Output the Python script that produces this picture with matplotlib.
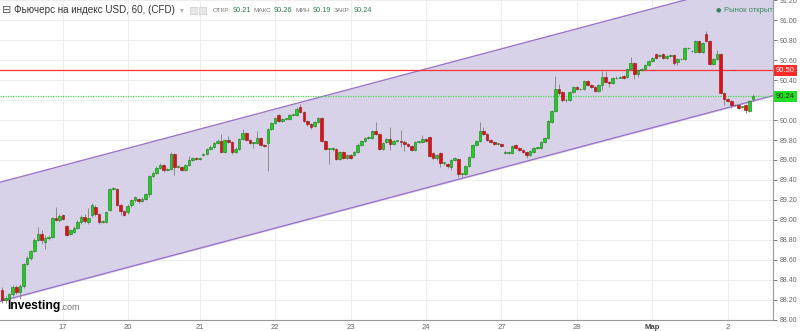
import matplotlib.pyplot as plt
import matplotlib.transforms as mtransforms
from matplotlib.patches import Rectangle
import numpy as np

# hourly candles
opens = [88.30, 88.20, 88.21, 88.26, 88.33, 88.28, 88.34, 88.56, 88.62, 88.69,
         88.80, 88.86, 88.78, 88.82, 88.83, 89.02, 89.00, 89.05, 88.94, 88.86,
         88.88, 88.92, 88.98, 89.03, 88.98, 89.05, 89.13, 89.06, 88.98, 88.98,
         89.10, 89.31, 89.31, 89.15, 89.09, 89.08, 89.15, 89.20, 89.21, 89.19,
         89.21, 89.26, 89.44, 89.47, 89.52, 89.55, 89.50, 89.51, 89.66, 89.53,
         89.53, 89.50, 89.55, 89.60, 89.62, 89.61, 89.65, 89.66, 89.71, 89.73,
         89.77, 89.79, 89.68, 89.80, 89.78, 89.68, 89.71, 89.81, 89.87, 89.80,
         89.77, 89.77, 89.82, 89.75, 89.77, 89.91, 89.97, 90.05, 89.99, 90.01,
         90.01, 90.05, 90.05, 90.13, 90.08, 89.99, 89.96, 89.94, 89.98, 90.02,
         89.79, 89.71, 89.71, 89.71, 89.61, 89.68, 89.62, 89.65, 89.65, 89.68,
         89.75, 89.79, 89.82, 89.82, 89.89, 89.86, 89.71, 89.78, 89.81, 89.76,
         89.79, 89.79, 89.78, 89.76, 89.74, 89.70, 89.78, 89.78, 89.81, 89.83,
         89.67, 89.62, 89.67, 89.57, 89.56, 89.53, 89.60, 89.61, 89.46, 89.46,
         89.54, 89.63, 89.75, 89.79, 89.89, 89.86, 89.80, 89.78, 89.76, 89.76,
         89.67, 89.67, 89.67, 89.75, 89.72, 89.70, 89.68, 89.65, 89.68, 89.72,
         89.72, 89.78, 89.82, 89.98, 90.09, 90.31, 90.28, 90.20, 90.20, 90.28,
         90.33, 90.31, 90.31, 90.39, 90.35, 90.33, 90.29, 90.35, 90.43, 90.38,
         90.37, 90.42, 90.42, 90.44, 90.43, 90.51, 90.57, 90.46, 90.50, 90.51,
         90.55, 90.59, 90.66, 90.64, 90.66, 90.62, 90.64, 90.65, 90.58, 90.61,
         90.61, 90.72, 90.69, 90.68, 90.79, 90.68, 90.86, 90.79, 90.56, 90.61,
         90.66, 90.27, 90.21, 90.19, 90.15, 90.15, 90.13, 90.15, 90.09, 90.21]
closes = [88.20, 88.22, 88.26, 88.33, 88.28, 88.34, 88.56, 88.62, 88.69, 88.80,
          88.86, 88.80, 88.82, 88.83, 89.02, 89.00, 89.04, 89.01, 88.85, 88.90,
          88.92, 88.98, 89.03, 88.99, 89.02, 89.15, 89.06, 88.98, 88.99, 89.08,
          89.31, 89.31, 89.15, 89.09, 89.05, 89.14, 89.20, 89.23, 89.19, 89.21,
          89.26, 89.44, 89.47, 89.52, 89.55, 89.50, 89.51, 89.66, 89.53, 89.53,
          89.50, 89.55, 89.60, 89.62, 89.61, 89.62, 89.66, 89.71, 89.73, 89.77,
          89.79, 89.68, 89.80, 89.78, 89.68, 89.71, 89.81, 89.87, 89.80, 89.77,
          89.77, 89.82, 89.75, 89.74, 89.91, 89.97, 90.02, 89.99, 90.01, 90.01,
          90.05, 90.05, 90.11, 90.08, 89.99, 89.96, 89.93, 89.98, 90.02, 89.79,
          89.71, 89.71, 89.71, 89.61, 89.68, 89.62, 89.65, 89.62, 89.68, 89.75,
          89.79, 89.82, 89.82, 89.89, 89.86, 89.71, 89.77, 89.81, 89.76, 89.79,
          89.79, 89.78, 89.76, 89.74, 89.70, 89.78, 89.78, 89.81, 89.79, 89.64,
          89.62, 89.65, 89.57, 89.57, 89.54, 89.60, 89.62, 89.46, 89.46, 89.54,
          89.63, 89.75, 89.79, 89.89, 89.86, 89.80, 89.78, 89.76, 89.76, 89.74,
          89.67, 89.67, 89.74, 89.72, 89.70, 89.68, 89.65, 89.69, 89.72, 89.72,
          89.78, 89.82, 89.99, 90.09, 90.31, 90.27, 90.20, 90.20, 90.28, 90.33,
          90.31, 90.31, 90.39, 90.35, 90.33, 90.29, 90.35, 90.43, 90.38, 90.37,
          90.42, 90.42, 90.43, 90.42, 90.51, 90.57, 90.46, 90.50, 90.51, 90.55,
          90.59, 90.62, 90.62, 90.65, 90.62, 90.64, 90.65, 90.57, 90.61, 90.61,
          90.72, 90.72, 90.69, 90.79, 90.68, 90.77, 90.79, 90.56, 90.61, 90.66,
          90.27, 90.21, 90.19, 90.15, 90.15, 90.12, 90.13, 90.10, 90.19, 90.24]
highs = [88.33, 88.24, 88.27, 88.35, 88.35, 88.36, 88.57, 88.64, 88.70, 88.82,
         88.93, 88.90, 88.85, 88.85, 89.03, 89.13, 89.06, 89.06, 88.95, 88.91,
         88.94, 89.00, 89.05, 89.06, 89.12, 89.17, 89.15, 89.07, 89.00, 89.09,
         89.32, 89.33, 89.32, 89.16, 89.10, 89.16, 89.21, 89.24, 89.22, 89.23,
         89.27, 89.45, 89.49, 89.54, 89.57, 89.56, 89.52, 89.68, 89.67, 89.55,
         89.54, 89.56, 89.64, 89.63, 89.63, 89.63, 89.67, 89.72, 89.75, 89.78,
         89.81, 89.86, 89.81, 89.84, 89.79, 89.73, 89.82, 89.91, 89.88, 89.81,
         89.78, 89.89, 89.83, 89.76, 89.92, 89.98, 90.03, 90.06, 90.02, 90.02,
         90.06, 90.06, 90.13, 90.16, 90.09, 90.00, 89.97, 89.99, 90.03, 90.03,
         89.80, 89.72, 89.73, 89.72, 89.69, 89.69, 89.66, 89.66, 89.69, 89.77,
         89.80, 89.83, 89.84, 89.90, 89.98, 89.87, 89.78, 89.82, 89.93, 89.80,
         89.80, 89.90, 89.80, 89.77, 89.75, 89.79, 89.79, 89.85, 89.82, 89.84,
         89.68, 89.66, 89.68, 89.58, 89.57, 89.61, 89.63, 89.62, 89.47, 89.55,
         89.64, 89.76, 89.80, 89.98, 89.93, 89.87, 89.81, 89.79, 89.77, 89.77,
         89.70, 89.68, 89.75, 89.76, 89.73, 89.71, 89.69, 89.70, 89.73, 89.73,
         89.79, 89.83, 90.00, 90.10, 90.44, 90.36, 90.29, 90.22, 90.29, 90.34,
         90.34, 90.32, 90.40, 90.40, 90.36, 90.34, 90.36, 90.49, 90.49, 90.39,
         90.43, 90.44, 90.44, 90.45, 90.52, 90.63, 90.58, 90.51, 90.52, 90.56,
         90.60, 90.63, 90.67, 90.66, 90.67, 90.65, 90.66, 90.66, 90.62, 90.62,
         90.73, 90.73, 90.70, 90.80, 90.80, 90.78, 90.89, 90.80, 90.62, 90.70,
         90.67, 90.28, 90.22, 90.20, 90.16, 90.16, 90.14, 90.16, 90.20, 90.26]
lows = [88.17, 88.17, 88.19, 88.24, 88.26, 88.21, 88.32, 88.55, 88.60, 88.68,
        88.79, 88.76, 88.71, 88.80, 88.82, 88.99, 88.98, 89.00, 88.84, 88.85,
        88.87, 88.91, 88.96, 88.97, 88.96, 89.03, 89.04, 88.96, 88.97, 88.97,
        89.09, 89.30, 89.14, 89.05, 89.04, 89.06, 89.13, 89.18, 89.17, 89.18,
        89.20, 89.23, 89.43, 89.46, 89.51, 89.48, 89.49, 89.50, 89.45, 89.52,
        89.49, 89.49, 89.54, 89.59, 89.60, 89.60, 89.64, 89.65, 89.70, 89.72,
        89.76, 89.67, 89.67, 89.77, 89.66, 89.67, 89.70, 89.80, 89.79, 89.76,
        89.72, 89.76, 89.74, 89.73, 89.49, 89.90, 89.96, 89.98, 89.98, 90.00,
        90.00, 90.04, 90.04, 90.07, 89.98, 89.94, 89.91, 89.93, 89.97, 89.78,
        89.70, 89.56, 89.69, 89.60, 89.60, 89.61, 89.61, 89.61, 89.64, 89.67,
        89.74, 89.78, 89.81, 89.81, 89.85, 89.70, 89.70, 89.77, 89.70, 89.75,
        89.78, 89.73, 89.69, 89.73, 89.69, 89.69, 89.77, 89.77, 89.78, 89.63,
        89.61, 89.60, 89.53, 89.55, 89.52, 89.50, 89.59, 89.43, 89.43, 89.45,
        89.53, 89.62, 89.74, 89.78, 89.85, 89.79, 89.77, 89.75, 89.75, 89.73,
        89.66, 89.66, 89.66, 89.71, 89.69, 89.67, 89.62, 89.64, 89.67, 89.71,
        89.71, 89.77, 89.81, 89.97, 90.08, 90.25, 90.18, 90.18, 90.19, 90.27,
        90.30, 90.30, 90.30, 90.34, 90.32, 90.28, 90.28, 90.30, 90.37, 90.33,
        90.36, 90.41, 90.42, 90.41, 90.42, 90.50, 90.41, 90.43, 90.49, 90.50,
        90.54, 90.58, 90.61, 90.63, 90.61, 90.61, 90.63, 90.55, 90.55, 90.60,
        90.60, 90.71, 90.68, 90.67, 90.67, 90.67, 90.78, 90.55, 90.55, 90.60,
        90.26, 90.15, 90.18, 90.12, 90.14, 90.11, 90.12, 90.07, 90.08, 90.19]

day_labels = ['17', '20', '21', '22', '23', '24', '27', '28', 'Мар', '2']
day_start_idx = [17, 35, 55, 76, 97, 118, 139, 160, 181, 202]

# trend channel (two parallel lines)
channel_x = [-1, 215]
channel_upper = [89.372, 91.443]
channel_lower = [88.178, 90.249]

resistance = 90.50
last_price = 90.24
ohlc_names = ['ОТКР', 'МАКС', 'МИН', 'ЗАКР']
ohlc_values = ['90.21', '90.26', '90.19', '90.24']

FONT = ['Liberation Sans', 'DejaVu Sans']
plt.rcParams['font.family'] = FONT

W, H = 800, 331
fig = plt.figure(figsize=(W / 100, H / 100), dpi=100)
ax = fig.add_axes([0, 1 - 319.5 / H, 773 / W, 319.5 / H])
ax.set_xlim(-0.56, 214.6)
ax.set_ylim(88.0, 91.204)

# grid
ax.set_yticks(np.round(np.arange(88.0, 91.21, 0.2), 2))
ax.set_xticks(day_start_idx)
ax.set_xticklabels(day_labels)
ax.grid(True, color='#eeeeee', linewidth=0.8, zorder=0)
ax.set_axisbelow(True)

# channel
ax.fill_between(channel_x, channel_lower, channel_upper, color='#d8d2e9', zorder=1)
ax.plot(channel_x, channel_upper, color='#9a70c8', linewidth=0.9, zorder=2)
ax.plot(channel_x, channel_lower, color='#9a70c8', linewidth=0.9, zorder=2)

# horizontal levels
ax.axhline(resistance, color='#ff3030', linewidth=0.9, zorder=2.2)
ax.axhline(last_price, color='#44dd44', linewidth=0.9, linestyle=(0, (1, 1)), zorder=2.2)

# candles
o = np.array(opens)
c = np.array(closes)
h = np.array(highs)
l = np.array(lows)
idx = np.arange(len(c))
up = c >= o
ax.vlines(idx, l, h, color='#8c8c8c', linewidth=0.7, zorder=3)
bottom = np.minimum(o, c)
height = np.maximum(np.abs(c - o), 0.006)
ax.bar(idx, height, bottom=bottom, width=0.72,
       color=np.where(up, '#22cc22', '#dd1111'),
       edgecolor=np.where(up, '#137a13', '#8a1010'),
       linewidth=0.4, zorder=4)

# axes styling
for s in ['top', 'left']:
    ax.spines[s].set_visible(False)
for s in ['right', 'bottom']:
    ax.spines[s].set_color('#999999')
    ax.spines[s].set_linewidth(0.8)
ax.yaxis.tick_right()
# the 90.20 label sits under the last-price tag on the original, so leave it blank
ax.yaxis.set_major_formatter(plt.FuncFormatter(
    lambda v, pos: '' if abs(v - 90.2) < 1e-6 else '%.2f' % v))
ax.tick_params(axis='y', labelsize=5, colors='#666666', length=3, width=0.6, pad=2)
ax.tick_params(axis='x', labelsize=5.5, colors='#666666', length=0, pad=3)
for t in ax.get_xticklabels():
    if t.get_text() == 'Мар':
        t.set_color('#444444')
        t.set_fontweight('bold')

# price tags on the right axis
trans = mtransforms.blended_transform_factory(ax.transAxes, ax.transData)
ax.text(1.004, resistance, '%.2f' % resistance, transform=trans, ha='left', va='center',
        fontsize=5.5, color='white', zorder=10, clip_on=False,
        bbox=dict(boxstyle='square,pad=0.25', fc='#ff2a2a', ec='none'))
ax.text(1.004, last_price, '%.2f' % last_price, transform=trans, ha='left', va='center',
        fontsize=5.5, color='#113311', zorder=10, clip_on=False,
        bbox=dict(boxstyle='square,pad=0.25', fc='#22dd22', ec='none'))

# header
def px(x, y):
    return x / W, 1 - y / H

fig.text(*px(2, 10), '⊟', fontsize=8, color='#555555', va='center', family=['DejaVu Sans'])
fig.text(*px(14, 10), 'Фьючерс на индекс USD, 60, (CFD)', fontsize=7.1,
         color='#333333', va='center')
fig.text(*px(180, 10), '▾', fontsize=5.5, color='#aaaaaa', va='center', family=['DejaVu Sans'])
fig.patches.append(Rectangle(px(190, 14), 7 / W, 7 / H, transform=fig.transFigure,
                             fc='#e6e6e6', ec='#cccccc', lw=0.5))
fig.patches.append(Rectangle(px(199, 14), 7 / W, 7 / H, transform=fig.transFigure,
                             fc='#e6e6e6', ec='#cccccc', lw=0.5))
name_x = [213, 254, 295, 334]
val_x = [233, 274, 313, 354]
for nx, vx, nm, vl in zip(name_x, val_x, ohlc_names, ohlc_values):
    fig.text(*px(nx, 10), nm, fontsize=4.6, color='#777777', va='center')
    fig.text(*px(vx, 10), vl, fontsize=5.3, color='#2e7d4f', va='center')

fig.text(*px(716, 10), '●', fontsize=4.5, color='#2e8b57', va='center', family=['DejaVu Sans'])
fig.text(*px(724, 10), 'Рынок открыт', fontsize=5.5, color='#3a8a5a', va='center')

# logo
fig.text(*px(7, 306), 'Investing', fontsize=8.7, fontweight='bold', color='black', va='center')
fig.text(*px(60, 307), '.com', fontsize=6.5, color='#777777', va='center')

fig.savefig('out.png', dpi=100, facecolor='white')
